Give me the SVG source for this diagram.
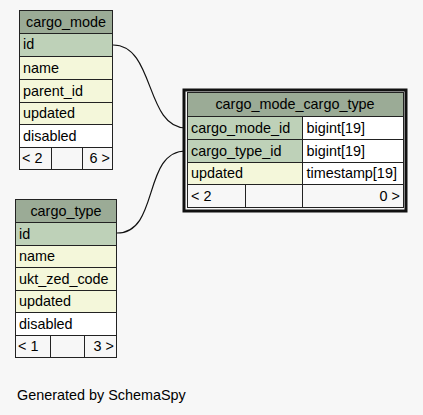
<svg xmlns="http://www.w3.org/2000/svg" width="423" height="415" viewBox="0 0 423 415">
<style>
text{font-family:"Liberation Sans",Arial,sans-serif;font-size:14.4px;fill:#000}
.c{stroke:#222;stroke-width:1}
.h{fill:#9bab96}
.k{fill:#bed1b8}
.i{fill:#f4f7da}
.w{fill:#ffffff}
.f{fill:#f7f7f7}
.m{text-anchor:middle}
.r{text-anchor:end}
.e{fill:none;stroke:#111;stroke-width:1.2}
</style>
<rect width="423" height="415" fill="#f7f7f7"/>
<g id="connectors">
<path class="e" d="M113,45 C155,45 145,128 186,128"/>
<path class="e" d="M117,233 C160,233 142,151 186,151"/>
</g>
<g id="cargo_mode">
<rect class="c h" x="19.5" y="10.5" width="93" height="23"/>
<rect class="c k" x="19.5" y="33.5" width="93" height="23"/>
<rect class="c i" x="19.5" y="56.5" width="93" height="23"/>
<rect class="c i" x="19.5" y="79.5" width="93" height="23"/>
<rect class="c i" x="19.5" y="102.5" width="93" height="22"/>
<rect class="c w" x="19.5" y="124.5" width="93" height="23"/>
<rect class="c f" x="19.5" y="147.5" width="32" height="22"/>
<rect class="c f" x="51.5" y="147.5" width="31" height="22"/>
<rect class="c f" x="82.5" y="147.5" width="30" height="22"/>
<text class="m" x="66" y="27">cargo_mode</text>
<text x="23" y="49">id</text>
<text x="23" y="72.5">name</text>
<text x="23" y="95.5">parent_id</text>
<text x="23" y="118">updated</text>
<text x="23" y="140.5">disabled</text>
<text x="22" y="163">&lt; 2</text>
<text class="r" x="110" y="163">6 &gt;</text>
</g>
<g id="cargo_type">
<rect class="c h" x="15.5" y="199.5" width="101" height="23"/>
<rect class="c k" x="15.5" y="222.5" width="101" height="23"/>
<rect class="c i" x="15.5" y="245.5" width="101" height="22"/>
<rect class="c i" x="15.5" y="267.5" width="101" height="23"/>
<rect class="c i" x="15.5" y="290.5" width="101" height="22"/>
<rect class="c w" x="15.5" y="312.5" width="101" height="23"/>
<rect class="c f" x="15.5" y="335.5" width="35" height="22"/>
<rect class="c f" x="50.5" y="335.5" width="34" height="22"/>
<rect class="c f" x="84.5" y="335.5" width="32" height="22"/>
<text class="m" x="66" y="216">cargo_type</text>
<text x="19" y="238.5">id</text>
<text x="19" y="261">name</text>
<text x="19" y="283.5">ukt_zed_code</text>
<text x="19" y="306">updated</text>
<text x="19" y="328.5">disabled</text>
<text x="18" y="351">&lt; 1</text>
<text class="r" x="114" y="351">3 &gt;</text>
</g>
<g id="cargo_mode_cargo_type">
<rect x="184" y="90" width="222" height="121" fill="#f7f7f7" stroke="#111" stroke-width="3"/>
<rect class="c h" x="187.5" y="92.5" width="216" height="24"/>
<rect class="c k" x="187.5" y="116.5" width="115" height="23"/>
<rect class="c w" x="302.5" y="116.5" width="101" height="23"/>
<rect class="c k" x="187.5" y="139.5" width="115" height="23"/>
<rect class="c w" x="302.5" y="139.5" width="101" height="23"/>
<rect class="c i" x="187.5" y="162.5" width="115" height="22"/>
<rect class="c w" x="302.5" y="162.5" width="101" height="22"/>
<rect class="c f" x="187.5" y="184.5" width="58" height="23"/>
<rect class="c f" x="245.5" y="184.5" width="57" height="23"/>
<rect class="c f" x="302.5" y="184.5" width="101" height="23"/>
<text class="m" x="295" y="109">cargo_mode_cargo_type</text>
<text x="191" y="133">cargo_mode_id</text>
<text x="306.5" y="133">bigint[19]</text>
<text x="191" y="156">cargo_type_id</text>
<text x="306.5" y="156">bigint[19]</text>
<text x="191" y="178">updated</text>
<text x="306.5" y="178">timestamp[19]</text>
<text x="191" y="201">&lt; 2</text>
<text class="r" x="400" y="201">0 &gt;</text>
</g>
<text x="17" y="400">Generated by SchemaSpy</text>
</svg>
